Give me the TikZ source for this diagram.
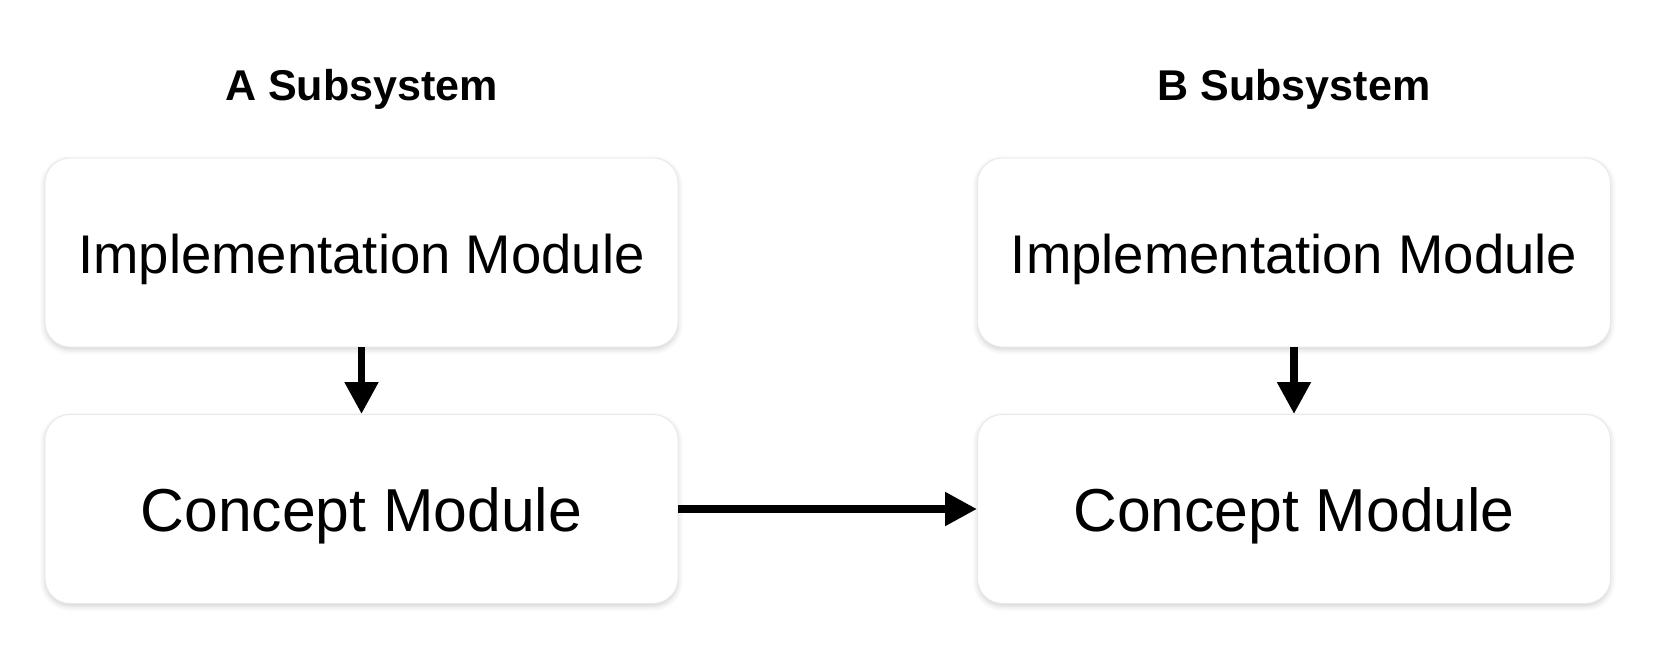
\documentclass[tikz,border=0pt]{standalone}
\usepackage{fontspec}
\setmainfont{Liberation Sans}
\usetikzlibrary{arrows.meta,shadows.blur}
\tikzset{module/.style={draw=black!9, line width=0.5pt, fill=white, rounded corners=0.5cm,
    minimum width=12.66cm, minimum height=3.78cm, inner sep=0pt, text depth=0pt,
    blur shadow={shadow xshift=0pt, shadow yshift=-1.5pt, shadow blur radius=3pt, shadow opacity=18}},
  title/.style={font=\fontsize{24.5}{28}\selectfont\bfseries, inner sep=0pt},
  impl/.style={font=\fontsize{31}{36}\selectfont, text height=23.5pt},
  concept/.style={font=\fontsize{34.5}{40}\selectfont, text height=26pt},
  link/.style={black, line width=4.5pt, -{Triangle[width=0.64cm,length=0.64cm]}}}

\begin{document}
\begin{tikzpicture}
  \useasboundingbox (0,0) rectangle (33.16,-13.04);
  \begin{scope}
   \node[title] (atitle) at (7.23,-1.78) {A Subsystem};
   \node[module,impl] (aimpl) at (7.23,-5.05) {Implementation Module};
   \node[module,concept] (aconcept) at (7.23,-10.18) {Concept Module};
   \draw[link] (aimpl) -- (aconcept);
  \end{scope}
  \begin{scope}
   \node[title] (btitle) at (25.88,-1.78) {B Subsystem};
   \node[module,impl] (bimpl) at (25.88,-5.05) {Implementation Module};
   \node[module,concept] (bconcept) at (25.88,-10.18) {Concept Module};
   \draw[link] (bimpl) -- (bconcept);
  \end{scope}
  \draw[link] (aconcept) -- (bconcept);
\end{tikzpicture}
\end{document}
